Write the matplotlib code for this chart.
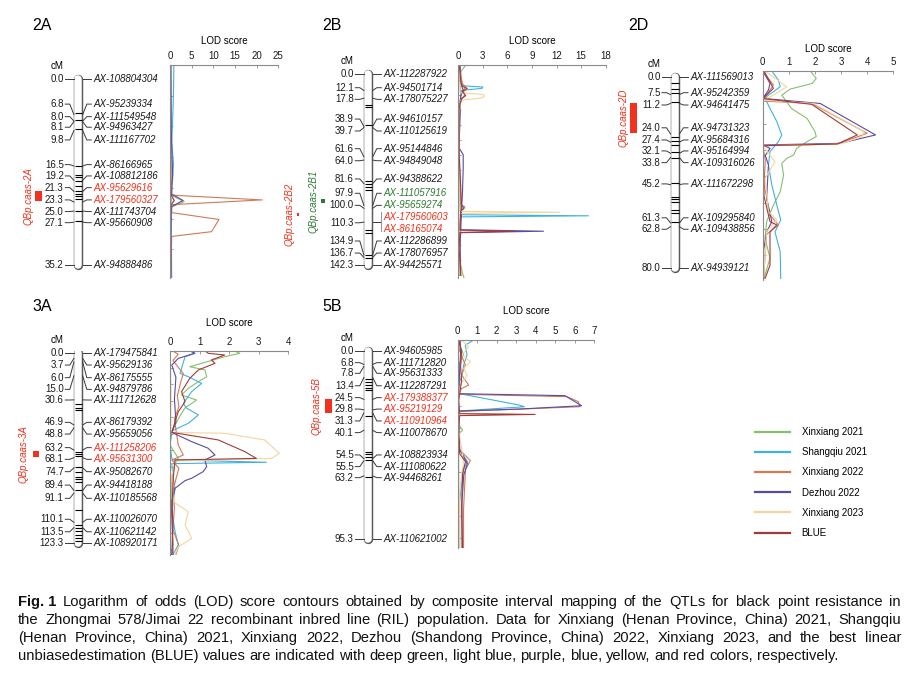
import numpy as np
import matplotlib.pyplot as plt
from matplotlib.lines import Line2D
from matplotlib import font_manager

plt.rcParams['font.family'] = ['Liberation Sans', 'DejaVu Sans']

W, H = 914, 675
RED = '#f0321e'
GREEN = '#2f7a34'

seriesNames = ["Xinxiang 2021", "Shangqiu 2021", "Xinxiang 2022", "Dezhou 2022", "Xinxiang 2023", "BLUE"]
seriesColors = ["#86c06c", "#3fb2e0", "#cf7b58", "#5b4b9e", "#f4d59c", "#a33a3a"]

# ---------------- chromosome 2A ----------------
cm2A = [0.0, 6.8, 8.0, 8.1, 9.8, 16.5, 19.2, 21.3, 23.3, 25.0, 27.1, 35.2]
names2A = ["AX-108804304", "AX-95239334", "AX-111549548", "AX-94963427", "AX-111167702", "AX-86166965",
           "AX-108812186", "AX-95629616", "AX-179560327", "AX-111743704", "AX-95660908", "AX-94888486"]
lab2A = [0, 4.8, 7.17, 9.17, 11.57, 16.23, 18.37, 20.58, 22.9, 25.1, 27.2, 35.2]
redIdx2A = [7, 8]
bands2A = [(6.5, 6.5), (7.8, 7.8), (9.5, 9.5), (16.4, 16.4), (18.2, 18.2), (18.5, 18.5), (19.4, 19.4),
           (20.3, 20.3), (21.3, 21.3), (21.8, 21.8), (22.2, 22.2), (22.7, 22.7), (25.0, 25.0), (26.9, 26.9)]
red2A = (21.0, 23.1)
qtl2A = [("QBp.caas-2A", 21.2, 23.1)]
lod2A = {
    "Xinxiang 2021": ([-2.6, 10, 20, 22.0, 23.2, 24.3, 27, 30, 37.8], [0.1, 0.1, 0.2, 0.2, 3.3, 0.2, 0.2, 0.1, 0.1]),
    "Shangqiu 2021": ([-2.6, 3, 8, 12, 16, 19, 20.5, 22, 25, 30, 37.8], [0.9, 0.8, 0.6, 0.4, 0.8, 0.6, 0.2, 0.3, 0.2, 0.3, 0.4]),
    "Xinxiang 2022": ([-2.6, 10, 21.5, 22.0, 22.9, 23.8, 25.3, 26.6, 28.9, 29.8, 33, 37.8],
                      [0.2, 0.2, 0.3, 0.3, 21.3, 0.4, 0.4, 11.3, 9.6, 0.4, 0.3, 0.2]),
    "Dezhou 2022": ([-2.6, 10, 18, 21.8, 23.0, 24.2, 30, 37.8], [0.2, 0.3, 0.6, 0.4, 3.0, 0.3, 0.2, 0.2]),
    "Xinxiang 2023": ([-2.6, 15, 22, 23, 24, 37.8], [0.05, 0.05, 0.1, 0.8, 0.1, 0.05]),
    "BLUE": ([-2.6, 15, 21.8, 23.0, 24.0, 37.8], [0.0, 0.1, 0.1, 1.0, 0.1, 0.0]),
}

# ---------------- chromosome 2B ----------------
cm2B = [0.0, 12.1, 17.8, 38.9, 39.7, 61.6, 64.0, 81.6, 97.9, 100.0, 110.3, 110.3, 134.9, 136.7, 142.3]
names2B = ["AX-112287922", "AX-94501714", "AX-178075227", "AX-94610157", "AX-110125619", "AX-95144846",
           "AX-94849048", "AX-94388622", "AX-111057916", "AX-95659274", "AX-179560603", "AX-86165074",
           "AX-112286899", "AX-178076957", "AX-94425571"]
lab2B = [0, 10.0, 18.7, 33.4, 42.3, 55.5, 64.5, 78.1, 88.8, 97.8, 106.2, 115.4, 124.4, 133.4, 142.3]
greenIdx2B = [8, 9]
redIdx2B = [10, 11]
bands2B = [(11.7, 13.7), (16, 17.2), (23, 23), (24.2, 24.2), (37.8, 37.8), (59, 61.5), (79.6, 79.6), (81.9, 81.9),
           (83.9, 83.9), (86.3, 86.3), (88.4, 90.8), (92.5, 95), (96.3, 98.8), (101.3, 104.3), (105, 108.5),
           (109.5, 113.7), (116.2, 116.2), (118.7, 118.7), (128.1, 131.6), (134.9, 134.9), (137.3, 137.3)]
qtl2B = [("QBp.caas-2B1", 93.0, 96.0), ("QBp.caas-2B2", 103.2, 105.7)]
lod2B = {
    "Xinxiang 2021": ([-7.7, -6, -2, 5, 15, 40, 80, 100, 120, 140, 148, 152],
                      [0.5, 0.8, 0.3, 0.2, 0.3, 0.1, 0.2, 0.3, 0.1, 0.2, 0.5, 0.7]),
    "Shangqiu 2021": ([-7.7, 0, 8.5, 9.5, 10.5, 12, 20, 60, 100, 104.8, 105.6, 106.4, 115, 150],
                      [0.2, 0.3, 0.4, 3.0, 2.9, 0.4, 0.2, 0.1, 0.2, 0.3, 15.9, 0.3, 0.2, 0.2]),
    "Xinxiang 2022": ([-7.7, 0, 7, 9.5, 12, 15, 18, 22, 60, 97, 99, 102, 110, 150],
                      [0.1, 0.3, 0.5, 0.9, 0.6, 0.8, 0.5, 0.2, 0.1, 0.3, 0.8, 0.3, 0.2, 0.3]),
    "Dezhou 2022": ([-7.7, 5, 12, 16, 30, 55, 60, 70, 90, 100, 116.0, 117.1, 118.2, 125, 150],
                    [0.2, 0.2, 0.6, 0.3, 0.2, 0.1, 0.6, 0.6, 0.5, 0.4, 0.3, 10.4, 0.3, 0.2, 0.2]),
    "Xinxiang 2023": ([-7.7, 5, 13.8, 15, 16.5, 18, 19.2, 30, 100, 102.3, 103, 103.8, 110, 150],
                      [0.1, 0.2, 0.2, 3.1, 3.2, 2.6, 0.3, 0.1, 0.1, 0.2, 12.4, 0.2, 0.1, 0.1]),
    "BLUE": ([-7.7, 5, 9, 10.5, 13, 16, 18, 25, 60, 98, 100, 102, 116.3, 117.1, 118, 130, 150],
             [0.1, 0.3, 0.5, 1.1, 0.5, 0.9, 0.4, 0.1, 0.1, 0.4, 0.7, 0.3, 0.2, 7.0, 0.2, 0.1, 0.3]),
}

# ---------------- chromosome 2D ----------------
cm2D = [0.0, 7.5, 11.2, 24.0, 27.4, 32.1, 33.8, 45.2, 61.3, 62.8, 80.0]
names2D = ["AX-111569013", "AX-95242359", "AX-94641475", "AX-94731323", "AX-95684316", "AX-95164994",
           "AX-109316026", "AX-111672298", "AX-109295840", "AX-109438856", "AX-94939121"]
lab2D = [0, 6.7, 11.85, 21.4, 26.5, 31.1, 36.0, 44.9, 59.1, 63.9, 80.0]
bands2D = [(2.8, 2.8), (5.3, 5.3), (7.0, 7.0), (10.5, 10.5), (25.1, 25.1), (26.9, 26.9), (28.6, 28.6),
           (31.4, 31.4), (33.9, 33.9), (44.7, 44.7), (50.3, 50.3), (51.4, 51.4), (52.4, 52.4), (55.8, 55.8),
           (57, 57), (60.7, 60.7)]
red2D = (11.1, 23.5)
qtl2D = [("QBp.caas-2D", 11.1, 23.7)]
lod2D = {
    "Xinxiang 2021": ([-2.4, 0.7, 2.8, 5.2, 7.7, 13.3, 17.5, 23, 25.1, 27.2, 30, 32.8, 34.2, 36.3, 41.2, 48.2, 53.8,
                       60.7, 67.7, 76, 84.5],
                      [1.82, 2.05, 1.9, 1.05, 0.73, 1.1, 1.7, 2.0, 2.05, 1.7, 1.3, 1.18, 0.92, 0.73, 0.8, 0.67,
                       0.41, 0.15, 0.09, 0.28, 0.05]),
    "Shangqiu 2021": ([-2.4, 1.4, 4.2, 6.3, 7.7, 9.1, 13.3, 18.8, 24.4, 27.2, 31.4, 37, 45.4, 53.8, 60, 65, 73.3, 84.5],
                      [0.35, 0.6, 0.67, 0.41, 0.22, 0.09, 0.28, 0.54, 0.73, 0.6, 0.28, 0.22, 0.35, 0.54, 0.69,
                       0.47, 0.67, 0.69]),
    "Xinxiang 2022": ([-2.4, 3.5, 7.7, 10.2, 11.2, 23.7, 28.2, 28.9, 35, 45, 58, 62.1, 66, 84.5],
                      [0, 0.41, 0.15, 0, 1.88, 4.0, 2.85, 0, 0.1, 0.05, 0.28, 0.6, 0.15, 0.03]),
    "Dezhou 2022": ([-2.4, 2.8, 5.6, 9.1, 11.2, 24.4, 27.9, 28.6, 30, 33, 37, 51, 60.7, 65, 73, 84.5],
                    [0, 0.28, 0.22, 0, 2.2, 4.32, 2.97, 0, 0.28, 0.1, 0.22, 0.15, 0.35, 0.15, 0.03, 0.03]),
    "Xinxiang 2023": ([-2.4, 4.2, 7.7, 9.8, 11.2, 23, 25.1, 28.2, 28.9, 35.6, 42.6, 56.5, 60, 65, 84.5],
                      [0.09, 0.92, 0.41, 0.03, 1.95, 3.87, 3.8, 2.97, 0, 0.47, 0.09, 0.22, 0.54, 0.15, 0.03]),
    "BLUE": ([-2.4, 4.9, 9.1, 11.6, 24.4, 28.2, 28.9, 37, 50, 60.7, 62.1, 65, 79, 84.5],
             [0.05, 0.41, 0, 1.88, 3.62, 2.85, 0, 0.03, 0.05, 0.28, 0.54, 0.28, 0.28, 0.09]),
}

# ---------------- chromosome 3A ----------------
cm3A = [0.0, 3.7, 6.0, 15.0, 30.6, 46.9, 48.8, 63.2, 68.1, 74.7, 89.4, 91.1, 110.1, 113.5, 123.3]
names3A = ["AX-179475841", "AX-95629136", "AX-86175555", "AX-94879786", "AX-111712628", "AX-86179392",
           "AX-95659056", "AX-111258206", "AX-95631300", "AX-95082670", "AX-94418188", "AX-110185568",
           "AX-110026070", "AX-110621142", "AX-108920171"]
lab3A = [0, 8.0, 16.2, 23.8, 30.7, 45.2, 52.8, 61.6, 69.2, 77.2, 85.9, 94.5, 108.1, 116.2, 123.3]
redIdx3A = [7, 8]
bands3A = [(3.6, 5.0), (6, 7.5), (8.5, 10), (11, 12.5), (13.5, 15.5), (17, 19), (20.5, 22), (30.5, 31.5),
           (33, 33.5), (35.5, 36), (37, 37.5), (47.6, 48.9), (64.5, 64.5), (65.5, 65.5), (66.8, 66.8),
           (74, 74), (77.2, 77.2), (80.5, 80.5), (82, 82), (83.7, 83.7), (89.1, 89.1), (102, 102), (112, 112),
           (114, 114), (116, 116), (118.5, 118.5), (120.5, 120.5), (122, 122)]
red3A = (63.6, 67.9)
qtl3A = [("QBp.caas-3A", 63.6, 67.9)]
lod3A = {
    "Xinxiang 2021": ([-1, 0.4, 2.6, 6.9, 9.1, 11.2, 15.6, 18.8, 23.1, 27.5, 30.7, 36, 41, 47, 51, 60, 68.5, 72,
                       81.5, 103, 124.8, 131],
                      [2.2, 2.36, 1.85, 1.07, 0.67, 1.18, 1.24, 0.96, 0.62, 0.39, 0.9, 0.5, 0.34, 0.17, 0.06, 0,
                       0.28, 0.17, 0.06, 0.06, 0.11, 0.05]),
    "Shangqiu 2021": ([-1, 0.4, 2.6, 13.4, 15.6, 19.9, 25.3, 32.9, 36, 40.4, 45.8, 50.8, 60, 68.5, 69.6, 71.1,
                       72, 81.5, 88, 103, 116, 124.8, 131],
                      [0.7, 0.84, 0.51, 0.34, 0.62, 1.07, 0.73, 0.45, 0.56, 0.96, 0.62, 0.06, 0, 0.06, 0.1, 3.26,
                       0.06, 0.11, 0.17, 0.06, 0.17, 0.28, 0.1]),
    "Xinxiang 2022": ([-1, 1, 5, 10, 13.4, 20, 28, 35, 43, 50, 60, 66.4, 69.6, 75, 82, 90, 100, 115, 125, 131],
                      [0.1, 0.28, 0.1, 0.3, 0.45, 0.35, 0.25, 0.3, 0.15, 0.2, 0.28, 0.45, 0.06, 0.3, 0.2, 0.1,
                       0.15, 0.1, 0.3, 0.2]),
    "Dezhou 2022": ([-1, 0.3, 3.7, 8, 16, 30, 45, 51.7, 57.7, 62, 66.4, 69.6, 74, 77.2, 81.5, 83, 88, 96.7, 110, 131],
                    [0.7, 0.84, 0.28, 0.06, 0.2, 0.15, 0.2, 0.06, 0.73, 1.29, 1.52, 1.18, 1.24, 1.12, 0.73, 0.51,
                     0.17, 0.06, 0.1, 0.06]),
    "Xinxiang 2023": ([-1, 20, 50, 51.7, 52.3, 56.6, 65.3, 68.6, 70.3, 80, 96.7, 103.2, 111.8, 116, 120.5, 126, 131],
                      [0, 0.03, 0.03, 0.06, 1.85, 3.2, 3.7, 3.43, 0.17, 0.06, 0.11, 0.62, 0.51, 0.62, 0.73, 0.28,
                       0.17]),
    "BLUE": ([-1, 0.4, 1.5, 4.7, 6.9, 11.2, 16.6, 25.3, 31.8, 38.3, 44.8, 51.7, 56.6, 64.2, 68.6, 69.6, 81.5,
              103.2, 131],
             [1.2, 1.29, 1.85, 1.4, 1.52, 0.96, 0.67, 0.39, 0.51, 0.28, 0.17, 0.06, 1.63, 2.53, 2.92, 0.17, 0.11,
              0.06, 0.1]),
}

# ---------------- chromosome 5B ----------------
cm5B = [0.0, 6.8, 7.8, 13.4, 24.5, 29.8, 31.3, 40.1, 54.5, 55.5, 63.2, 95.3]
names5B = ["AX-94605985", "AX-111712820", "AX-95631333", "AX-112287291", "AX-179388377", "AX-95219129",
           "AX-110910964", "AX-110078670", "AX-108823934", "AX-111080622", "AX-94468261", "AX-110621002"]
lab5B = [0, 5.9, 11.3, 17.6, 23.6, 29.4, 35.4, 41.3, 52.6, 58.5, 64.1, 95.3]
redIdx5B = [4, 5, 6]
bands5B = [(0.3, 1.2), (1.8, 2.9), (5.4, 7.9), (14, 14), (15.5, 15.5), (17, 17), (18.5, 18.5), (19.7, 19.7),
           (32.9, 32.9), (40, 41.7), (51, 51), (52.2, 52.2), (53.5, 53.5), (55.2, 55.2), (63.6, 63.6)]
red5B = (24.8, 31.5)
qtl5B = [("QBp.caas-5B", 24.4, 31.2)]
lod5B = {
    "Xinxiang 2021": ([-5.6, -3, 2, 6, 12, 20, 30, 38, 40, 42, 50, 60, 80, 99.9],
                      [0.05, 0.1, 0.31, 0.1, 0.05, 0.05, 0.05, 0.1, 0.25, 0.05, 0.05, 0.05, 0.05, 0.05]),
    "Shangqiu 2021": ([-5.6, -5, -3, 2, 7, 12.1, 17, 21.6, 27.3, 28.2, 30.4, 35, 50, 56, 60, 76, 99.9],
                      [0.6, 0.73, 0.39, 0.48, 0.31, 0.22, 0.05, 0.1, 3.12, 3.42, 0.05, 0.05, 0.1, 0.5, 0.3, 0.1, 0.1]),
    "Xinxiang 2022": ([-5.6, -5, 0, 7, 12.1, 17.2, 19, 21.9, 23.1, 25.6, 28.2, 30.6, 35, 50, 55.5, 60, 80, 99.9],
                      [0.1, 0.15, 0.1, 0.39, 0.2, 0.56, 0.2, 0.05, 5.59, 6.18, 6.27, 0.05, 0.05, 0.1, 0.65, 0.4,
                       0.3, 0.3]),
    "Dezhou 2022": ([-5.6, 0, 10, 21.6, 22.6, 27.7, 29.4, 30.4, 35, 50, 57, 62.8, 76.2, 99.9],
                    [0.1, 0.15, 0.1, 0.05, 5.5, 6.35, 3.12, 0.05, 0.05, 0.1, 0.5, 0.31, 0.22, 0.22]),
    "Xinxiang 2023": ([-5.6, -2.2, 2, 5.4, 8.8, 12.1, 17, 25, 31.6, 32.0, 32.5, 40, 56, 70, 99.9],
                      [0.2, 0.56, 0.22, 0.65, 0.31, 0.48, 0.15, 0.05, 0.1, 3.1, 0.1, 0.05, 0.3, 0.1, 0.1]),
    "BLUE": ([-5.6, 0, 8, 15, 25, 31.7, 32.1, 32.7, 40, 52, 56, 62, 80, 99.9],
             [0.05, 0.2, 0.15, 0.2, 0.05, 0.1, 3.97, 0.1, 0.05, 0.1, 0.4, 0.25, 0.2, 0.25]),
}

captionLines = [
    "Logarithm of odds (LOD) score contours obtained by composite interval mapping of the QTLs for black point resistance in",
    "the Zhongmai 578/Jimai 22 recombinant inbred line (RIL) population.  Data for Xinxiang (Henan Province, China) 2021, Shangqiu",
    "(Henan Province, China) 2021, Xinxiang 2022, Dezhou (Shandong Province, China) 2022, Xinxiang 2023, and the best linear",
    "unbiasedestimation (BLUE) values are indicated with deep green, light blue, purple, blue, yellow, and red colors, respectively.",
]

fig = plt.figure(figsize=(W / 100, H / 100), dpi=100)


def pxAxes(left, top, right, bottom):
    ax = fig.add_axes([left / W, 1 - bottom / H, (right - left) / W, (bottom - top) / H])
    ax.set_facecolor('none')
    return ax


def nameColors(n, redIdx=(), greenIdx=()):
    cols = ['#1a1a1a'] * n
    for i in redIdx:
        cols[i] = RED
    for i in greenIdx:
        cols[i] = GREEN
    return cols


def drawPanel(title, titlePos, cm, names, lab, cols, bands, red, qtls, qtlStyle, lod, lodMax, lodStep,
              cx, y0, ppc, lodBox, tickPx, labelpad):
    left, right, top, bottom = lodBox

    def cmAt(px):
        return (px - y0) / ppc

    ylim = (cmAt(bottom), cmAt(top))
    hw = 3.6

    # chromosome map
    cax = pxAxes(cx - 90, top, cx + 90, bottom)
    cax.set_xlim(-90, 90)
    cax.set_ylim(*ylim)
    cax.axis('off')
    L = cm[-1]
    cax.plot([0, 0], [0, L], color='#5a5a5a', lw=6.8, solid_capstyle='round')
    cax.plot([0, 0], [0, L], color='white', lw=5.4, solid_capstyle='round')
    if red is not None:
        cax.fill_betweenx([red[0], red[1]], -hw, hw, color=RED, lw=0)
    for s, e in bands:
        if e - s < 1.2 / ppc:
            cax.hlines((s + e) / 2, -hw, hw, color='black', lw=0.8)
        else:
            cax.fill_betweenx([s, e], -hw, hw, color='black', lw=0)

    fig.text(titlePos[0] / W, 1 - titlePos[1] / H, title, fontsize=11.5, va='center', ha='left')
    cax.text(-21, cmAt(y0 - 13), "cM", fontsize=7, ha='center', va='center')

    i = 0
    lineCol = '#3a3a3a'
    while i < len(cm):
        j = i
        while j + 1 < len(cm) and cm[j + 1] == cm[i]:
            j += 1
        c = cm[i]
        labMid = np.mean(lab[i:j + 1])
        cax.plot([-13, -8.5, -4.4], [labMid, labMid, c], color=lineCol, lw=0.7)
        cax.text(-14.5, labMid, f"{c:.1f}", ha='right', va='center', fontsize=7, color='#1a1a1a')
        if j == i:
            cax.plot([4.4, 8.5, 13], [c, lab[i], lab[i]], color=lineCol, lw=0.7)
        else:
            cax.plot([4.4, 12.4], [c, c], color=lineCol, lw=0.7)
            cax.plot([12.4, 12.4], [lab[i] - 4.5 / ppc, lab[j] + 2.5 / ppc], color='#999999', lw=0.8)
        for k in range(i, j + 1):
            cax.text(15.5, lab[k], names[k], ha='left', va='center', fontsize=7, style='italic', color=cols[k])
        i = j + 1

    for (qname, s, e), (qcol, bx0, bx1, tx) in zip(qtls, qtlStyle):
        cax.fill_betweenx([s, e], bx0, bx1, color=qcol, lw=0)
        cax.text(tx, (s + e) / 2, qname, rotation=90, ha='center', va='center', fontsize=7,
                 style='italic', color=qcol)

    # LOD profiles
    lax = pxAxes(left, top, right, bottom)
    for sname, scol in zip(seriesNames, seriesColors):
        ys, xs = lod[sname]
        lax.plot(xs, ys, color=scol, lw=0.8)
    lax.set_xlim(0, lodMax)
    lax.set_ylim(*ylim)
    for sp in ['right', 'bottom']:
        lax.spines[sp].set_visible(False)
    for sp in ['top', 'left']:
        lax.spines[sp].set_color('#8a8a8a')
        lax.spines[sp].set_linewidth(0.8)
    lax.xaxis.tick_top()
    lax.set_xticks(np.arange(0, lodMax + 0.01, lodStep))
    lax.tick_params(axis='x', direction='in', length=2.5, width=0.6, color='#8a8a8a',
                    labelsize=7, pad=3, labelcolor='#1a1a1a')
    step = tickPx / ppc
    lax.set_yticks(np.arange(ylim[1] + step, ylim[0], step))
    lax.tick_params(axis='y', direction='in', length=2, width=0.6, color='#8a8a8a', labelleft=False)
    lax.xaxis.set_label_position('top')
    lax.set_xlabel("LOD score", fontsize=7, labelpad=labelpad)


drawPanel("2A", (32, 25), cm2A, names2A, lab2A, nameColors(len(cm2A), redIdx2A), bands2A, red2A,
          qtl2A, [(RED, -43.5, -36.5, -49.5)], lod2A, 25, 5,
          78.3, 78.7, 5.293, (170, 278.3, 65, 278), 30.7, 5)
drawPanel("2B", (322, 25), cm2B, names2B, lab2B, nameColors(len(cm2B), redIdx2B, greenIdx2B), bands2B, None,
          qtl2B, [(GREEN, -47.6, -43.3, -55), (RED, -71.6, -69.3, -78.3)], lod2B, 18, 3,
          368.3, 74.3, 1.340, (458.3, 605.7, 65, 278), 15, 5)
drawPanel("2D", (628, 25), cm2D, names2D, lab2D, nameColors(len(cm2D)), bands2D, red2D,
          qtl2D, [(RED, -45, -38.3, -51.7)], lod2D, 5, 1,
          675, 76.7, 2.3875, (762.7, 893.3, 71, 280), 26.3, 3.6)
drawPanel("3A", (32, 306.7), cm3A, names3A, lab3A, nameColors(len(cm3A), redIdx3A), bands3A, red3A,
          qtl3A, [(RED, -45, -39, -55)], lod3A, 4, 1,
          78.3, 352.7, 1.541, (170, 288.3, 351, 555), 16.5, 8)
drawPanel("5B", (322, 306.7), cm5B, names5B, lab5B, nameColors(len(cm5B), redIdx5B), bands5B, red5B,
          qtl5B, [(RED, -43.3, -36.6, -51.6)], lod5B, 7, 1,
          368.3, 351, 1.976, (457.7, 594.3, 340, 548), 22, 8.6)

# legend
handles = [Line2D([0], [0], color=c, lw=1.6) for c in seriesColors]
fig.legend(handles, seriesNames, loc='upper left', bbox_to_anchor=(755 / W, 1 - 427 / H),
           frameon=False, fontsize=7, handlelength=3.6, handletextpad=1.2, labelspacing=1.05,
           borderpad=0, borderaxespad=0)

# caption, justified like the journal layout
try:
    font_manager.findfont('Liberation Sans Narrow', fallback_to_default=False)
    capFont, capSize = 'Liberation Sans Narrow', 13.0
except ValueError:
    capFont, capSize = 'Liberation Sans', 10.6

renderer = fig.canvas.get_renderer()
capLeft, capRight = 18, 901
capY = [602, 620, 638, 656]


def textWidth(s, bold=False):
    t = fig.text(0, 0, s, fontsize=capSize, family=capFont, fontweight='bold' if bold else 'normal')
    w = t.get_window_extent(renderer).width
    t.remove()
    return w


spaceW = textWidth("a a") - textWidth("aa")

for n, line in enumerate(captionLines):
    tokens = [(w, False) for w in line.split()]
    if n == 0:
        tokens = [("Fig. 1", True)] + tokens
    arts = [fig.text(0, 1 - capY[n] / H, t, fontsize=capSize, family=capFont,
                     fontweight='bold' if b else 'normal', va='center', color='#111111') for t, b in tokens]
    widths = [a.get_window_extent(renderer).width for a in arts]
    if n < len(captionLines) - 1:
        gap = max((capRight - capLeft - sum(widths)) / (len(arts) - 1), spaceW * 0.8)
    else:
        gap = spaceW
    x = capLeft
    for a, w in zip(arts, widths):
        a.set_x(x / W)
        x += w + gap

fig.savefig("out.png", dpi=100)
